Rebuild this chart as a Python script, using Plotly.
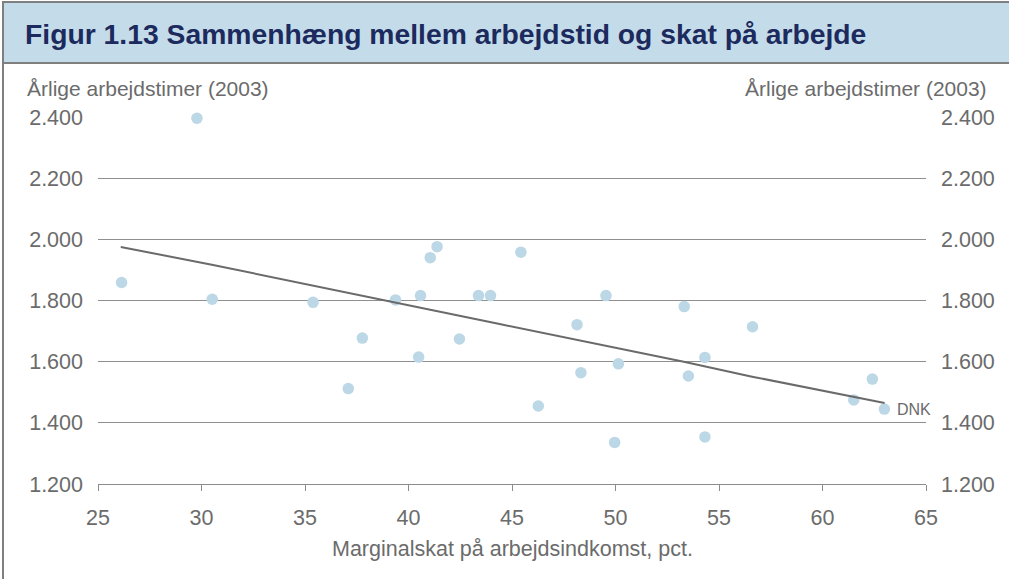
import plotly.graph_objects as go

# Data
tax_pct = [26.14, 29.78, 30.52, 35.39, 37.77, 37.09, 39.37, 40.58, 40.49, 41.05,
           41.38, 42.46, 43.38, 43.96, 45.43, 46.27, 49.54, 48.14, 48.33, 50.14,
           49.96, 53.32, 53.52, 54.32, 54.32, 56.62, 61.51, 62.41, 62.99]
hours = [1859, 2396, 1804, 1794, 1677, 1512, 1802, 1816, 1615, 1940,
         1976, 1674, 1816, 1816, 1958, 1455, 1816, 1721, 1564, 1593,
         1336, 1780, 1553, 1614, 1354, 1714, 1475, 1543, 1445]
trend_x = [26.1, 30.5, 44.4, 50.0, 53.3, 56.6, 63.0]
trend_y = [1975, 1917, 1723, 1645, 1600, 1551, 1465]
label_country = "DNK"
label_x = 62.99
label_y = 1445
y_ticks = [1200, 1400, 1600, 1800, 2000, 2200, 2400]
y_ticktext = ["1.200", "1.400", "1.600", "1.800", "2.000", "2.200", "2.400"]
x_ticks = [25, 30, 35, 40, 45, 50, 55, 60, 65]

title_text = "Figur 1.13 Sammenhæng mellem arbejdstid og skat på arbejde"
y_title = "Årlige arbejdstimer (2003)"
x_title = "Marginalskat på arbejdsindkomst, pct."

FONT = "Liberation Sans, Arial, sans-serif"
GRAY = "#6b6b6b"

W, H = 1009, 579
L, R, T, B = 98, 83, 117, 95
pw, ph = W - L - R, H - T - B


def px(xp):
    return (xp - L) / pw


def py(yp):
    return (H - B - yp) / ph


fig = go.Figure()
fig.add_trace(go.Scatter(
    x=tax_pct, y=hours, mode="markers", cliponaxis=False,
    marker=dict(color="#bcd7e6", size=11.5, line=dict(width=0)),
    showlegend=False, hoverinfo="skip"))
fig.add_trace(go.Scatter(
    x=trend_x, y=trend_y, mode="lines",
    line=dict(color="#6a6a6a", width=2),
    showlegend=False, hoverinfo="skip"))
# invisible trace to make the right axis render
fig.add_trace(go.Scatter(
    x=tax_pct, y=hours, mode="markers", yaxis="y2",
    marker=dict(opacity=0), showlegend=False, hoverinfo="skip"))

TICKFONT = dict(size=21.5, color=GRAY, family=FONT)

fig.update_layout(
    width=W, height=H,
    margin=dict(l=L, r=R, t=T, b=B, pad=0),
    paper_bgcolor="white", plot_bgcolor="white",
    font=dict(family=FONT, color=GRAY, size=21),
    xaxis=dict(range=[25, 65], tickvals=x_ticks, showgrid=False, zeroline=False,
               showline=True, linecolor="#8c8c8c", linewidth=1,
               ticks="outside", ticklen=6, tickcolor="#8c8c8c", tickwidth=1,
               ticklabelstandoff=8, tickfont=TICKFONT),
    yaxis=dict(range=[1200, 2400], tickvals=y_ticks, ticktext=y_ticktext,
               showgrid=True, gridcolor="#8f8f8f", gridwidth=1, zeroline=False,
               showline=False, ticks="", ticklabelstandoff=14, tickfont=TICKFONT),
    yaxis2=dict(range=[1200, 2400], tickvals=y_ticks, ticktext=y_ticktext,
                overlaying="y", side="right", showgrid=False, zeroline=False,
                showline=False, ticks="", ticklabelstandoff=14, tickfont=TICKFONT),
    shapes=[
        # title bar
        dict(type="rect", xref="paper", yref="paper",
             x0=px(3), x1=px(1015), y0=py(63), y1=py(2),
             fillcolor="#c4dce9", line=dict(color="#7f7f7f", width=2),
             layer="below"),
        # left border of figure frame
        dict(type="line", xref="paper", yref="paper",
             x0=px(3), x1=px(3), y0=py(2), y1=py(585),
             line=dict(color="#7f7f7f", width=2)),
    ],
    annotations=[
        dict(text=f"<b>{title_text}</b>", xref="paper", yref="paper",
             x=px(23), y=py(34), xanchor="left", yanchor="middle",
             showarrow=False, font=dict(size=28.3, color="#1c2a5e", family=FONT)),
        dict(text=y_title, xref="paper", yref="paper",
             x=px(25), y=py(88), xanchor="left", yanchor="middle",
             showarrow=False, font=dict(size=21, color=GRAY, family=FONT)),
        dict(text=y_title, xref="paper", yref="paper",
             x=px(989), y=py(88), xanchor="right", yanchor="middle",
             showarrow=False, font=dict(size=21, color=GRAY, family=FONT)),
        dict(text=x_title, xref="paper", yref="paper",
             x=0.5, y=py(549), xanchor="center", yanchor="middle",
             showarrow=False, font=dict(size=21.5, color=GRAY, family=FONT)),
        dict(text=label_country, x=label_x, y=label_y, xref="x", yref="y",
             xanchor="left", yanchor="middle", xshift=11, showarrow=False,
             font=dict(size=16, color=GRAY, family=FONT)),
    ],
)

fig.write_html("out.html",
               config={"displayModeBar": False},
               post_script="document.body.style.margin='0';document.body.style.overflow='hidden';")
